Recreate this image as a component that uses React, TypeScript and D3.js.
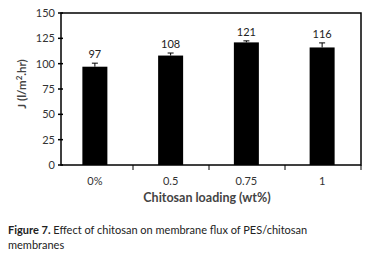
import React from "react";
import * as d3 from "d3";

const categories = ["0%", "0.5", "0.75", "1"];
const values = [97, 108, 121, 116];
const errors = [3.5, 2.5, 1.5, 4.5];
const yTicks = [0, 25, 50, 75, 100, 125, 150];

export default function App() {
  const W = 383, H = 257;
  const left = 61, right = 361, top = 13, bottom = 165;
  const x = d3.scaleBand<string>().domain(categories).range([57, 360]).paddingInner(0.67).paddingOuter(0.335);
  const xb = d3.scaleBand<string>().domain(categories).range([57, 361]);
  const y = d3.scaleLinear().domain([0, 150]).range([bottom, top]);
  const font = "Lato, 'Open Sans', sans-serif";
  return (
    <svg width={W} height={H} style={{ position: "absolute", left: 0, top: 0, background: "#fff" }}>
      <rect x={left} y={top} width={right - left} height={bottom - top} fill="none" stroke="#000" strokeWidth={1.5} />
      {yTicks.map((t) => (
        <g key={t}>
          <line x1={left - 3} x2={left + 2} y1={y(t)} y2={y(t)} stroke="#000" strokeWidth={1.5} />
          <text x={left - 6} y={y(t)} dy="0.35em" textAnchor="end" fontSize={11} fill="#333" fontFamily={font}>{t}</text>
        </g>
      ))}
      {categories.slice(1).map((c) => (
        <line key={c} x1={xb(c)!} x2={xb(c)!} y1={bottom} y2={bottom + 5} stroke="#000" strokeWidth={1} />
      ))}
      <line x1={right} x2={right} y1={bottom} y2={bottom + 5} stroke="#000" strokeWidth={1} />
      {categories.map((c, i) => {
        const bx = x(c)!;
        const bw = x.bandwidth();
        const cx = bx + bw / 2;
        return (
          <g key={c}>
            <rect x={bx} y={y(values[i])} width={bw} height={bottom - y(values[i])} fill="#000" />
            <line x1={cx} x2={cx} y1={y(values[i])} y2={y(values[i] + errors[i])} stroke="#000" strokeWidth={1} />
            <line x1={cx - 3} x2={cx + 3} y1={y(values[i] + errors[i])} y2={y(values[i] + errors[i])} stroke="#000" strokeWidth={1} />
            <text x={cx} y={y(values[i] + errors[i]) - 5} textAnchor="middle" fontSize={11} fill="#222" fontFamily={font}>{values[i]}</text>
            <text x={cx} y={bottom + 20} textAnchor="middle" fontSize={11} fill="#333" fontFamily={font}>{c}</text>
          </g>
        );
      })}
      <text transform={`translate(26,${(top + bottom) / 2 - 5}) rotate(-90)`} textAnchor="middle" fontSize={11.5} fontWeight="bold" fill="#444" fontFamily={font}>
        J (l/m<tspan dy="-4" fontSize={8}>2</tspan><tspan dy="4">.hr)</tspan>
      </text>
      <text x={207} y={202} textAnchor="middle" fontSize={12.5} fontWeight="bold" fill="#444" fontFamily={font}>Chitosan loading (wt%)</text>
      <text x={8} y={234} fontSize={11} fill="#222" fontFamily={font}>
        <tspan fontWeight="bold">Figure 7.</tspan> Effect of chitosan on membrane flux of PES/chitosan
      </text>
      <text x={8} y={249} fontSize={11} fill="#222" fontFamily={font}>membranes</text>
    </svg>
  );
}
